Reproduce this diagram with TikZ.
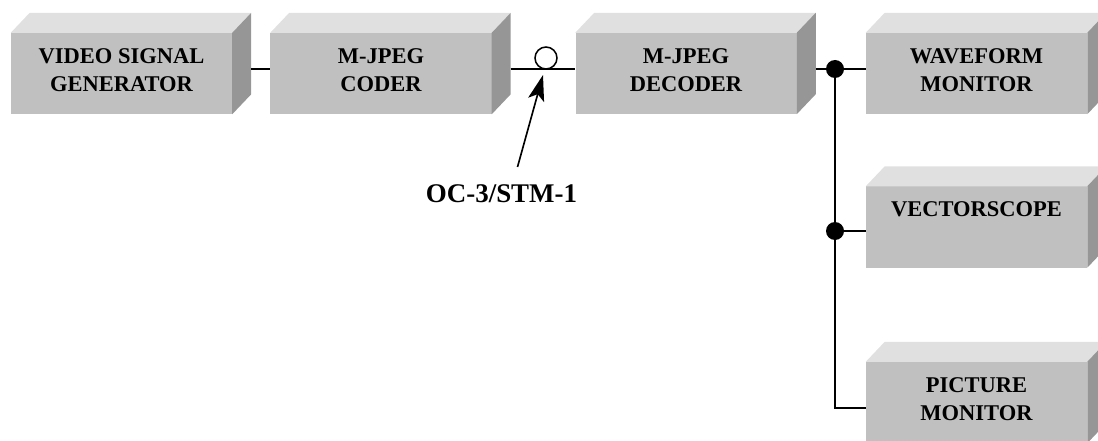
\documentclass[tikz,border=0pt]{standalone}
\usepackage{fontspec}
\setmainfont{Liberation Serif}
\usepackage{tikz}
\usetikzlibrary{arrows.meta,positioning}
\definecolor{facegray}{RGB}{192,192,192}
\definecolor{topgray}{RGB}{224,224,224}
\definecolor{sidegray}{RGB}{150,150,150}

\begin{document}
\begin{tikzpicture}[x=0.03cm, y=0.03cm,
  face/.style={fill=facegray, minimum width=6.63cm, minimum height=2.43cm, inner sep=0pt},
  boxtext/.style={anchor=north, align=center, inner sep=0pt, font=\bfseries\fontsize{19.2}{23.8}\selectfont},
  wire/.style={line width=1.3pt},
  joint/.style={circle, fill=black, minimum size=0.54cm, inner sep=0pt},
  port/.style={circle, draw, fill=white, line width=1.3pt, minimum size=0.66cm, inner sep=0pt},
  ptr/.style={line width=1.4pt, -{Stealth[length=22pt,width=14pt,inset=5pt]}}]
\useasboundingbox (0,0) rectangle (1098,440);
\clip (0,0) rectangle (1098,440);
% front faces of the units
\node[face] (vsg) at (121.5,366.5) {};
\node[face] (cod) at (381,366.5) {};
\node[face] (dec) at (686,366.5) {};
\node[face] (wfm) at (976.5,366.5) {};
\node[face] (vec) at (976.5,213) {};
\node[face] (pic) at (976.5,37.5) {};
% top and side faces
\foreach \n in {vsg,cod,dec,wfm,vec,pic}{
  \fill[topgray] (\n.north west) -- ++(19,20) -- ([shift={(19,20)}]\n.north east) -- (\n.north east) -- cycle;
  \fill[sidegray] (\n.north east) -- ++(19,20) -- ([shift={(19,20)}]\n.south east) -- (\n.south east) -- cycle;
}
% captions
\node[boxtext] (vsgt) at ([shift={(0,-15.5)}]vsg.north) {VIDEO SIGNAL\\GENERATOR};
\node[boxtext] (codt) at ([shift={(0,-15.5)}]cod.north) {M-JPEG\\CODER};
\node[boxtext] (dect) at ([shift={(0,-15.5)}]dec.north) {M-JPEG\\DECODER};
\node[boxtext] (wfmt) at ([shift={(0,-15.5)}]wfm.north) {WAVEFORM\\MONITOR};
\node[boxtext] (vect) at ([shift={(0,-15.5)}]vec.north) {VECTORSCOPE};
\node[boxtext] (pict) at ([shift={(0,-15.5)}]pic.north) {PICTURE\\MONITOR};

% signal path
\draw[wire] ([shift={(19,4.5)}]vsg.east) -- ([shift={(0,4.5)}]cod.west);
\draw[wire] ([shift={(19,4.5)}]cod.east) -- ([shift={(0,4.5)}]dec.west);
\node[port] (oc) at (546,382) {};
\draw[wire] ([shift={(19,4.5)}]dec.east) -- ([shift={(0,4.5)}]wfm.west);

% monitor bus
\node[joint] (j1) at (835,371) {};
\node[joint] (j2) at (835,209) {};
\coordinate (corner) at (835,32);
\draw[wire] (j1.center) -- (corner) -- ([shift={(0,-5.5)}]pic.west);
\draw[wire] (j2.center) -- ([shift={(0,-4)}]vec.west);

% link label
\node[inner sep=0pt, font=\bfseries\fontsize{23}{28}\selectfont] (ocl) at (501.5,246.5) {OC-3/STM-1};
\draw[ptr] ([shift={(16,26.5)}]ocl.center) -- ([shift={(-3,-17)}]oc.center);
\end{tikzpicture}
\end{document}
